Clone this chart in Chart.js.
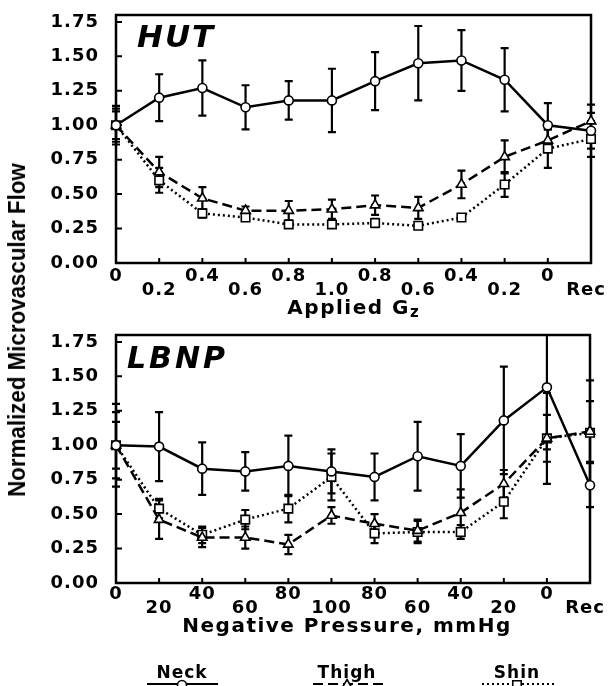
<!DOCTYPE html>
<html><head><meta charset="utf-8">
<script src="https://cdn.jsdelivr.net/npm/chart.js@4.4.1/dist/chart.umd.min.js"></script>
<style>
html,body{margin:0;padding:0;background:#fff;}
#wrap{position:relative;width:611px;height:686px;overflow:hidden;background:#fff;}
canvas{position:absolute;left:0;}
#c1{top:0;} #c2{top:320px;}
#ytitle{position:absolute;left:17px;top:330px;transform:translate(-50%,-50%) rotate(-90deg) scaleX(0.93);font:bold 24px 'Liberation Sans',Arial,sans-serif;white-space:nowrap;color:#000;}
</style></head><body>
<div id="wrap">
<canvas id="c1" width="611" height="320"></canvas>
<canvas id="c2" width="611" height="366"></canvas>
<div id="ytitle">Normalized Microvascular Flow</div>
</div>
<script>
// ---- data ----
const xPositions = [0,1,2,3,4,5,6,7,8,9,10,11];
const hutLabels  = ['0','0.2','0.4','0.6','0.8','1.0','0.8','0.6','0.4','0.2','0','Rec'];
const lbnpLabels = ['0','20','40','60','80','100','80','60','40','20','0','Rec'];
const yTicks = [0,0.25,0.5,0.75,1.0,1.25,1.5,1.75];
const seriesNames = ['Neck','Thigh','Shin'];

const hutNeck     = [1.00,1.20,1.27,1.13,1.18,1.18,1.32,1.45,1.47,1.33,1.00,0.96];
const hutNeckErr  = [0.14,0.17,0.20,0.16,0.14,0.23,0.21,0.27,0.22,0.23,0.16,0.13];
const hutThigh    = [1.00,0.66,0.47,0.38,0.38,0.39,0.42,0.40,0.57,0.77,0.89,1.03];
const hutThighErr = [0.12,0.11,0.08,0.03,0.07,0.07,0.07,0.08,0.10,0.12,0.08,0.12];
const hutShin     = [1.00,0.60,0.36,0.33,0.28,0.28,0.29,0.27,0.33,0.57,0.83,0.90];
const hutShinErr  = [0.10,0.09,0.03,0.02,0.02,0.02,0.03,0.02,0.02,0.09,0.14,0.13];

const lbnpNeck     = [1.00,0.99,0.83,0.81,0.85,0.81,0.77,0.92,0.85,1.18,1.42,0.71];
const lbnpNeckErr  = [0.30,0.25,0.19,0.14,0.22,0.16,0.17,0.25,0.23,0.39,0.45,0.16];
const lbnpThigh    = [1.00,0.46,0.33,0.33,0.28,0.49,0.43,0.38,0.51,0.72,1.05,1.10];
const lbnpThighErr = [0.24,0.14,0.07,0.08,0.07,0.06,0.07,0.08,0.17,0.10,0.17,0.22];
const lbnpShin     = [1.00,0.54,0.35,0.46,0.54,0.77,0.36,0.37,0.37,0.59,1.05,1.09];
const lbnpShinErr  = [0.17,0.07,0.06,0.07,0.10,0.17,0.07,0.08,0.05,0.12,0.33,0.38];

// ---- styling ----
const FONT = "'DejaVu Sans', 'Liberation Sans', sans-serif";
const styles = [
  {pointStyle:'circle',   radius:4.5, dash:[]},
  {pointStyle:'triangle', radius:5.5, dash:[10,5]},
  {pointStyle:'rect',     radius:6,   dash:[2,3]}
];

function ds(i, vals, errs){
  const s = styles[i];
  return {
    label: seriesNames[i],
    data: vals.map((v,k)=>({x:xPositions[k], y:v})),
    errors: errs,
    borderColor:'#000', borderWidth:2.5, borderDash:s.dash, backgroundColor:'#fff',
    pointStyle:s.pointStyle, pointRadius:s.radius, pointBorderWidth:1.6,
    pointBackgroundColor:'#fff', pointBorderColor:'#000',
    tension:0, fill:false, clip:false
  };
}

const panelPlugin = {
  id:'panel',
  beforeLayout(chart){ chart.ctx.letterSpacing='1px'; },
  beforeDraw(chart){ chart.ctx.letterSpacing='1px'; },
  beforeDatasetsDraw(chart){
    const ctx = chart.ctx, a = chart.chartArea, x = chart.scales.x, y = chart.scales.y;
    ctx.save();
    ctx.strokeStyle='#000'; ctx.setLineDash([]);
    ctx.lineWidth=2.5;
    ctx.strokeRect(a.left, a.top, a.right-a.left, a.bottom-a.top);
    ctx.lineWidth=2;
    ctx.beginPath();
    y.ticks.forEach(t=>{ const py=y.getPixelForValue(t.value); if(py<a.bottom-2){ctx.moveTo(a.left,py);ctx.lineTo(a.left+6,py);} });
    x.ticks.forEach(t=>{ const px=x.getPixelForValue(t.value); if(px>a.left+2&&px<a.right-2){ctx.moveTo(px,a.bottom);ctx.lineTo(px,a.bottom-5);} });
    ctx.stroke();
    ctx.beginPath(); ctx.rect(a.left-12, a.top, a.right-a.left+24, a.bottom-a.top); ctx.clip();
    ctx.lineWidth=2.2;
    chart.data.datasets.forEach(d=>{
      d.data.forEach((p,k)=>{
        const e=d.errors[k]; if(!e) return;
        const px=x.getPixelForValue(p.x), y1=y.getPixelForValue(p.y+e), y2=y.getPixelForValue(p.y-e);
        ctx.beginPath();
        ctx.moveTo(px,y1); ctx.lineTo(px,y2);
        ctx.moveTo(px-4,y1); ctx.lineTo(px+4,y1);
        ctx.moveTo(px-4,y2); ctx.lineTo(px+4,y2);
        ctx.stroke();
      });
    });
    ctx.restore();
  },
  afterDraw(chart, args, o){
    const ctx = chart.ctx;
    ctx.save();
    ctx.fillStyle='#000';
    // panel name
    ctx.font = 'italic bold '+o.nameSize+'px '+FONT;
    ctx.letterSpacing = o.nameSpacing+'px';
    ctx.textAlign='left'; ctx.textBaseline='alphabetic';
    ctx.fillText(o.name, o.nameX, o.nameY);
    // axis title
    ctx.font = 'bold 20px '+FONT;
    ctx.letterSpacing='1.5px';
    const wMain = ctx.measureText(o.title).width;
    let wSub = 0;
    if (o.sub){ ctx.font='bold 15px '+FONT; ctx.letterSpacing='0px'; wSub = ctx.measureText(o.sub).width; }
    const x0 = o.titleX - (wMain+wSub)/2;
    ctx.font = 'bold 20px '+FONT; ctx.letterSpacing='1.5px';
    ctx.fillText(o.title, x0, o.titleY);
    if (o.sub){ ctx.font='bold 15px '+FONT; ctx.letterSpacing='0px'; ctx.fillText(o.sub, x0+wMain, o.titleY+3); }
    // legend
    if (o.legend){
      chart.data.datasets.forEach((d,i)=>{
        const L = o.legend[i];
        ctx.font='bold 17px '+FONT; ctx.letterSpacing='1px';
        ctx.textAlign='center';
        ctx.fillStyle='#000';
        ctx.fillText(d.label, L[0], o.legendTextY);
        ctx.strokeStyle='#000'; ctx.lineWidth=2.2; ctx.setLineDash(d.borderDash);
        ctx.beginPath(); ctx.moveTo(L[1], o.legendLineY); ctx.lineTo(L[2], o.legendLineY); ctx.stroke();
        ctx.setLineDash([]);
        ctx.fillStyle='#fff'; ctx.lineWidth=1.6;
        Chart.helpers.drawPoint(ctx, {pointStyle:d.pointStyle, radius:d.pointRadius, borderWidth:1.6, rotation:0}, L[0], o.legendLineY+1);
      });
    }
    ctx.restore();
  }
};

function makePanel(id, labels, series, cfg){
  return new Chart(document.getElementById(id), {
    type:'line',
    data:{ datasets: series.map((s,i)=>ds(i, s[0], s[1])) },
    options:{
      responsive:false, animation:false, devicePixelRatio:1,
      layout:{padding:{top:15,right:cfg.padRight,left:0,bottom:0}},
      plugins:{ legend:{display:false}, tooltip:{enabled:false}, panel:cfg.panel },
      scales:{
        x:{
          type:'linear', min:0, max:11,
          afterBuildTicks:s=>{ s.ticks = xPositions.map(v=>({value:v})); },
          afterFit:s=>{ s.height = cfg.xAxisHeight; s.paddingLeft = 0; s.paddingRight = 0; },
          grid:{display:false, drawTicks:false}, border:{display:false},
          ticks:{ autoSkip:false, maxRotation:0, minRotation:0, padding:cfg.xPad, color:'#000',
            font:{family:FONT, weight:'bold', size:18, lineHeight:'14.5px'},
            callback:(v)=>{
              const k=Math.round(v);
              // the last label sits a little left of its tick in the original
              const t = (k===labels.length-1) ? labels[k]+'\u2002' : labels[k];
              return k%2===0 ? [t,''] : ['',t];
            } }
        },
        y:{
          min:0, max:1.8,
          afterBuildTicks:s=>{ s.ticks = yTicks.map(v=>({value:v})); },
          afterFit:s=>{ s.width = 116; s.paddingTop = 0; s.paddingBottom = 0; },
          grid:{display:false, drawTicks:false}, border:{display:false},
          ticks:{ padding:17, color:'#000', font:{family:FONT, weight:'bold', size:18},
            callback:v=>Number(v).toFixed(2) }
        }
      }
    },
    plugins:[panelPlugin]
  });
}

makePanel('c1', hutLabels, [[hutNeck,hutNeckErr],[hutThigh,hutThighErr],[hutShin,hutShinErr]], {
  padRight:20, xAxisHeight:57, xPad:6,
  panel:{ name:'HUT', nameSize:31, nameSpacing:2, nameX:137, nameY:47,
          title:'Applied G', sub:'z', titleX:353, titleY:314 }
});
makePanel('c2', lbnpLabels, [[lbnpNeck,lbnpNeckErr],[lbnpThigh,lbnpThighErr],[lbnpShin,lbnpShinErr]], {
  padRight:21, xAxisHeight:103, xPad:4,
  panel:{ name:'LBNP', nameSize:30, nameSpacing:3, nameX:127, nameY:48,
          title:'Negative Pressure, mmHg', sub:'', titleX:347, titleY:312,
          legend:[[182,147,218],[347,313,387],[517,482,555]], legendTextY:358, legendLineY:364 }
});
</script>
</body></html>
